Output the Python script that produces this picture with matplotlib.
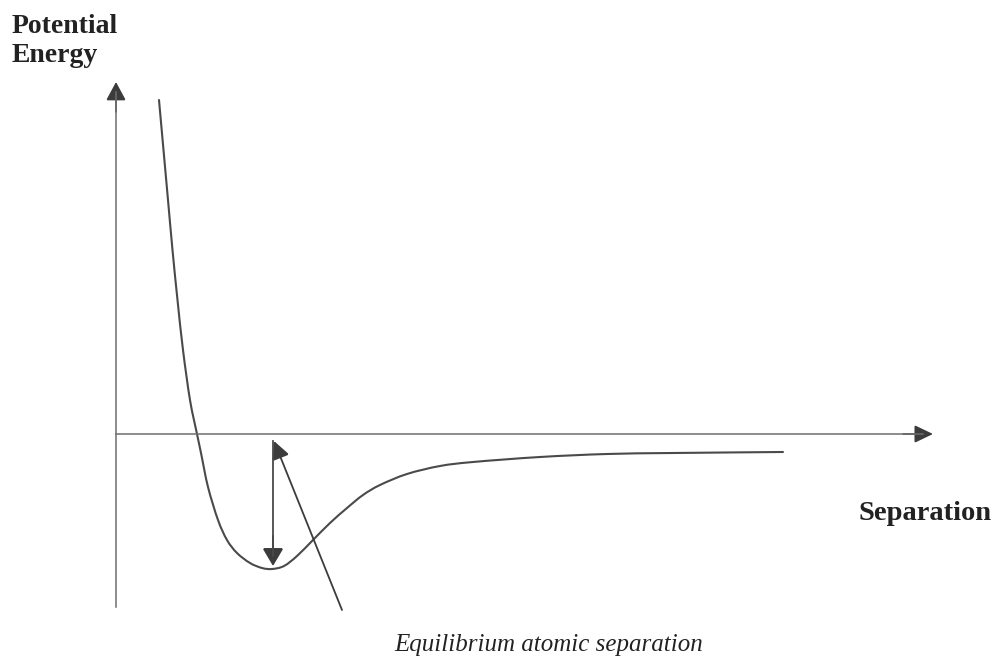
import matplotlib
matplotlib.use("Agg")
import matplotlib.pyplot as plt
from matplotlib.patches import FancyArrowPatch, PathPatch
from matplotlib.path import Path

# Potential energy curve (separation, energy), sampled along the sketch
separation = [0.43, 0.475, 0.52, 0.565, 0.615, 0.67, 0.74, 0.81, 0.85, 0.92,
              1.02, 1.11, 1.21, 1.34, 1.46, 1.56, 1.68, 1.81, 1.97, 2.14,
              2.31, 2.47, 2.64, 2.91, 3.24, 3.57, 4.24, 4.91, 5.57, 6.67]
energy = [3.34, 2.84, 2.34, 1.84, 1.34, 0.84, 0.34, 0.00, -0.19, -0.53,
          -0.86, -1.06, -1.19, -1.29, -1.34, -1.35, -1.32, -1.22, -1.06, -0.89,
          -0.74, -0.61, -0.51, -0.40, -0.32, -0.28, -0.23, -0.20, -0.19, -0.18]

# Equilibrium point (depth of the well) and the pointer to it
r_eq = 1.57
e_min = -1.32
pointer_start = (2.26, -1.76)
pointer_tip = (1.58, -0.07)

# Axis extents
x_axis_end = 8.17
y_axis_bottom = -1.73
y_axis_top = 3.52

fig = plt.figure(figsize=(9.94, 6.63), dpi=100)
ax = fig.add_axes([0, 0, 1, 1])
ax.set_xlim(-1.16, 8.78)
ax.set_ylim(-2.29, 4.34)
ax.axis("off")

axis_col = "#6e6e6e"
line_col = "#4a4a4a"
head_col = "#3c3c3c"


def arrow(p0, p1, style, lw, color, hl=11.5, hw=6.0):
    a = FancyArrowPatch(p0, p1,
                        arrowstyle=f"{style},head_length={hl},head_width={hw}",
                        mutation_scale=1, lw=lw, color=color,
                        shrinkA=0, shrinkB=0, joinstyle="miter")
    a.set_facecolor(head_col)
    a.set_edgecolor(head_col)
    ax.add_patch(a)


def smooth_path(xs, ys):
    """Cubic Bezier path passing through every sample (Catmull-Rom handles)."""
    pts = list(zip(xs, ys))
    verts = [pts[0]]
    codes = [Path.MOVETO]
    n = len(pts)
    for i in range(n - 1):
        p0 = pts[max(i - 1, 0)]
        p1 = pts[i]
        p2 = pts[i + 1]
        p3 = pts[min(i + 2, n - 1)]
        c1 = (p1[0] + (p2[0] - p0[0]) / 6, p1[1] + (p2[1] - p0[1]) / 6)
        c2 = (p2[0] - (p3[0] - p1[0]) / 6, p2[1] - (p3[1] - p1[1]) / 6)
        verts += [c1, c2, p2]
        codes += [Path.CURVE4] * 3
    return Path(verts, codes)


# Axes with arrowheads
ax.plot([0, 0], [y_axis_bottom, y_axis_top - 0.1], color=axis_col, lw=1.1)
arrow((0, y_axis_top - 0.3), (0, y_axis_top), "-|>", 1.1, axis_col, hl=11.5, hw=6.2)
ax.plot([0, x_axis_end - 0.1], [0, 0], color=axis_col, lw=1.1)
arrow((x_axis_end - 0.3, 0), (x_axis_end, 0), "-|>", 1.1, axis_col, hl=11.5, hw=5.5)

# Potential energy curve
ax.add_patch(PathPatch(smooth_path(separation, energy), facecolor="none",
                       edgecolor=line_col, lw=1.5, capstyle="round"))

# Well depth marker and pointer
ax.plot([r_eq, r_eq], [pointer_tip[1], e_min + 0.1], color=line_col, lw=1.3)
arrow((r_eq, e_min + 0.3), (r_eq, e_min), "-|>", 1.3, line_col, hl=11, hw=6.5)
arrow(pointer_start, pointer_tip, "-|>", 1.3, line_col, hl=11, hw=5.5)

# Labels
ax.text(-1.04, 4.20, "Potential\nEnergy", fontsize=20, fontweight="bold",
        family="Liberation Serif", color="#222222", ha="left", va="top",
        linespacing=1.22)
ax.text(7.42, -0.86, "Separation", fontsize=20.5, fontweight="bold",
        family="Liberation Serif", color="#222222", ha="left", va="baseline")
ax.text(5.87, -2.17, "Equilibrium atomic separation", fontsize=18,
        style="italic", family="Liberation Serif", color="#222222",
        ha="right", va="baseline")

fig.savefig("out.png", dpi=100, facecolor="white")
